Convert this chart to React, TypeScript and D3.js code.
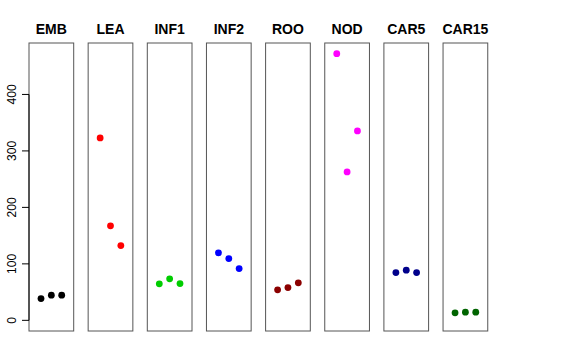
import React from "react";
import * as d3 from "d3";

const categories = ["EMB", "LEA", "INF1", "INF2", "ROO", "NOD", "CAR5", "CAR15"];
const colors = ["#000000", "#FF0000", "#00CD00", "#0000FF", "#8B0000", "#FF00FF", "#00008B", "#006400"];
const values: number[][] = [
  [38.6, 44.6, 44.6],
  [323, 167.3, 132.4],
  [64.6, 73.5, 65.1],
  [119.5, 109.4, 91.7],
  [54, 58, 66.4],
  [472.2, 262.8, 335.4],
  [84.6, 88.8, 84.6],
  [13.3, 14.5, 14.5],
];
const yTicks = [0, 100, 200, 300, 400];

const W = 576;
const H = 360;
const firstLeft = 29;
const panelStep = 59.15;
const panelW = 44.7;
const top = 43;
const bottom = 331;

export default function App() {
  const maxV = d3.max(values.flat()) as number;
  const pad = maxV * 0.04;
  const y = d3.scaleLinear().domain([-pad, maxV + pad]).range([bottom, top]);
  const panelX = d3.scaleLinear().domain([0, 1]).range([firstLeft, firstLeft + panelStep]);
  const font = "'Liberation Sans', Arial, Helvetica, sans-serif";

  return (
    <svg width={W} height={H} style={{ position: "absolute", left: 0, top: 0, background: "#fff" }} fontFamily={font}>
      {categories.map((cat, i) => {
        const left = panelX(i);
        const x = d3.scaleLinear().domain([-0.16, 4.16]).range([left, left + panelW]);
        return (
          <g key={cat}>
            <rect x={left} y={top} width={panelW} height={bottom - top} fill="none" stroke="#555" strokeWidth={1} />
            <text x={left + panelW / 2} y={34} textAnchor="middle" fontSize={14} fontWeight="bold" fill="#000">
              {cat}
            </text>
            {values[i].map((v, j) => (
              <circle key={j} cx={x(j + 1)} cy={y(v)} r={3.4} fill={colors[i]} />
            ))}
          </g>
        );
      })}
      <g>
        <line x1={firstLeft} x2={firstLeft} y1={y(yTicks[0])} y2={y(yTicks[yTicks.length - 1])} stroke="#000" />
        {yTicks.map((t) => (
          <g key={t}>
            <line x1={firstLeft - 7} x2={firstLeft} y1={y(t)} y2={y(t)} stroke="#000" />
            <text transform={`translate(16,${y(t)}) rotate(-90)`} textAnchor="middle" fontSize={12} fill="#000">
              {t}
            </text>
          </g>
        ))}
      </g>
    </svg>
  );
}
